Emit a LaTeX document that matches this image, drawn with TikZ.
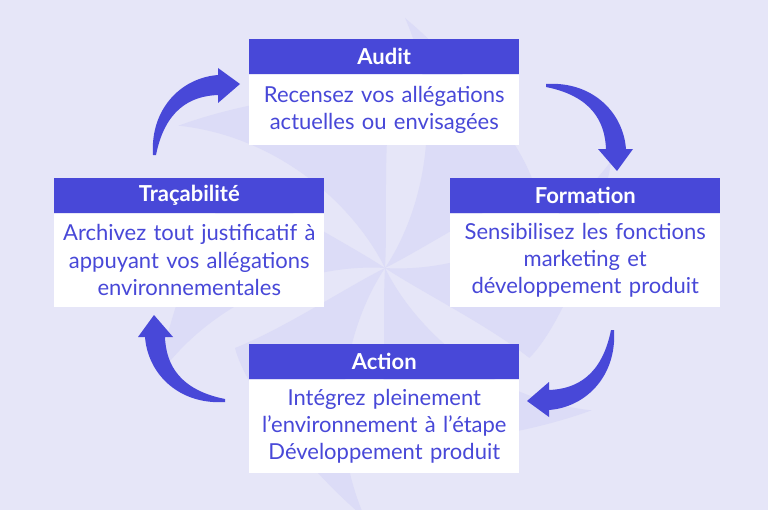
\documentclass[tikz,border=0pt]{standalone}
\usepackage{fontspec}
\setmainfont{Lato}
\definecolor{bg}{HTML}{E6E6F8}
\definecolor{blade}{HTML}{DCDCF7}
\definecolor{main}{HTML}{4848D8}
\tikzset{
 head/.style={fill=main,text=white,font=\bfseries\fontsize{16.5}{19}\selectfont,minimum width=270*0.75pt,minimum height=35*0.75pt,anchor=north west,inner sep=0pt},
 body/.style={fill=white,text=main,font=\fontsize{16.5}{20.5}\selectfont,text width=266*0.75pt,align=center,minimum width=270*0.75pt,anchor=north,inner sep=0pt},
 bigarrow/.pic={\fill[main] (0,0) .. controls (-3,-45) and (27,-77) .. (65,-80) -- (65,-87) -- (87,-71) -- (65,-52) -- (65,-60) .. controls (37,-59) and (12,-45) .. (3,0) -- cycle;}
}
\begin{document}
\begin{tikzpicture}[x=0.75pt,y=-0.75pt]
\fill[bg] (0,0) rectangle (768,510);
\useasboundingbox (0,0) rectangle (768,510);
\begin{scope}[shift={(385,268)}]
\foreach \a in {0,60,...,300}{
 \fill[blade,rotate=\a] (0,0) .. controls (40,-60) and (60,-160) .. (20,-250) .. controls (80,-200) and (140,-120) .. (150,-80) .. controls (100,-60) and (40,-20) .. (0,0) -- cycle;}
\end{scope}
\node[head] (h1) at (249,39) {Audit};
\node[body,minimum height=70*0.75pt] (b1) at (h1.south) {Recensez vos allégations\\actuelles ou envisagées};
\node[head] (h2) at (450,178) {Formation};
\node[body,minimum height=93*0.75pt] (b2) at (h2.south) {Sensibilisez les fonctions\\marketing et\\développement produit};
\node[head] (h3) at (54,178) {Traçabilité};
\node[body,minimum height=93*0.75pt] (b3) at (h3.south) {Archivez tout justificatif à\\appuyant vos allégations\\environnementales};
\node[head] (h4) at (249,344) {Action};
\node[body,minimum height=93*0.75pt] (b4) at (h4.south) {Intégrez pleinement\\l’environnement à l’étape\\Développement produit};
\pic at (153,155) {bigarrow};
\pic[rotate=-90] at (546,84) {bigarrow};
\pic[rotate=180] at (614,330) {bigarrow};
\pic[rotate=90] at (225,402) {bigarrow};
\end{tikzpicture}
\end{document}
